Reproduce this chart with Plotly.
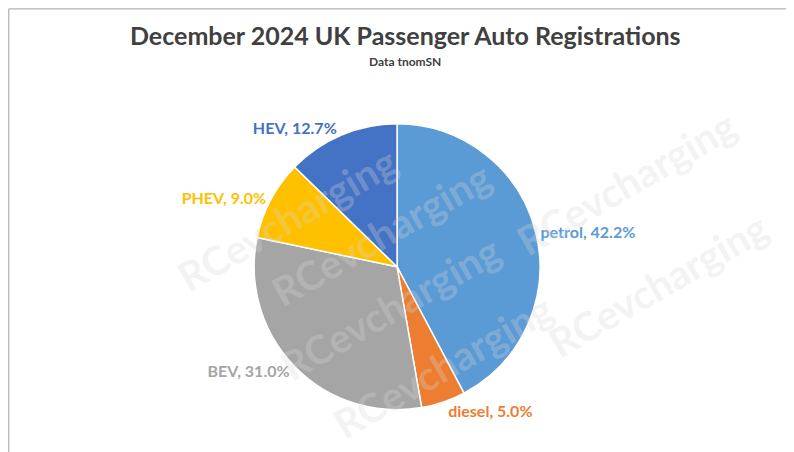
import plotly.graph_objects as go

fuel_types = ["petrol", "diesel", "BEV", "PHEV", "HEV"]
shares = [42.2, 5.0, 31.0, 9.0, 12.7]
colors = ["#5B9BD5", "#ED7D31", "#A5A5A5", "#FFC000", "#4472C4"]

fig = go.Figure()
fig.add_trace(go.Pie(
    labels=fuel_types, values=shares, sort=False, direction="clockwise", rotation=0,
    marker=dict(colors=colors, line=dict(color="white", width=1.5)),
    texttemplate="<b>%{label}, %{value:.1f}%</b>", textposition="outside",
    outsidetextfont=dict(family="Lato", size=16, color=colors),
    domain=dict(x=[0.31, 0.67], y=[0.11, 0.745]),
    showlegend=False, automargin=False,
))

# watermark
for x, y in [(0.2, 0.72), (0.47, 0.5), (0.33, 0.15), (0.93, 0.8), (0.97, 0.2), (0.7, 0.02)]:
    fig.add_annotation(x=x, y=y, xref="paper", yref="paper", text="<b>RCevcharging</b>", showarrow=False,
                       textangle=-30, font=dict(family="Lato", size=40, color="rgba(215,215,215,0.3)"))

fig.add_annotation(x=0.5, y=1 - 27 / 452, xref="paper", yref="paper", yanchor="middle",
                   text="<b>December 2024 UK Passenger Auto Registrations</b>",
                   showarrow=False, font=dict(family="Lato", size=25, color="#404040"))
fig.add_annotation(x=0.5, y=1 - 53 / 452, xref="paper", yref="paper", yanchor="middle", text="<b>Data tnomSN</b>",
                   showarrow=False, font=dict(family="Lato", size=12, color="#404040"))

fig.update_layout(
    width=794, height=452, margin=dict(l=0, r=0, t=0, b=0),
    paper_bgcolor="white", plot_bgcolor="white",
    shapes=[dict(type="rect", xref="paper", yref="paper", x0=0.001, y0=0.002, x1=0.999, y1=0.998,
                 line=dict(color="#A0A0A0", width=1))],
)
fig.write_html("out.html")
